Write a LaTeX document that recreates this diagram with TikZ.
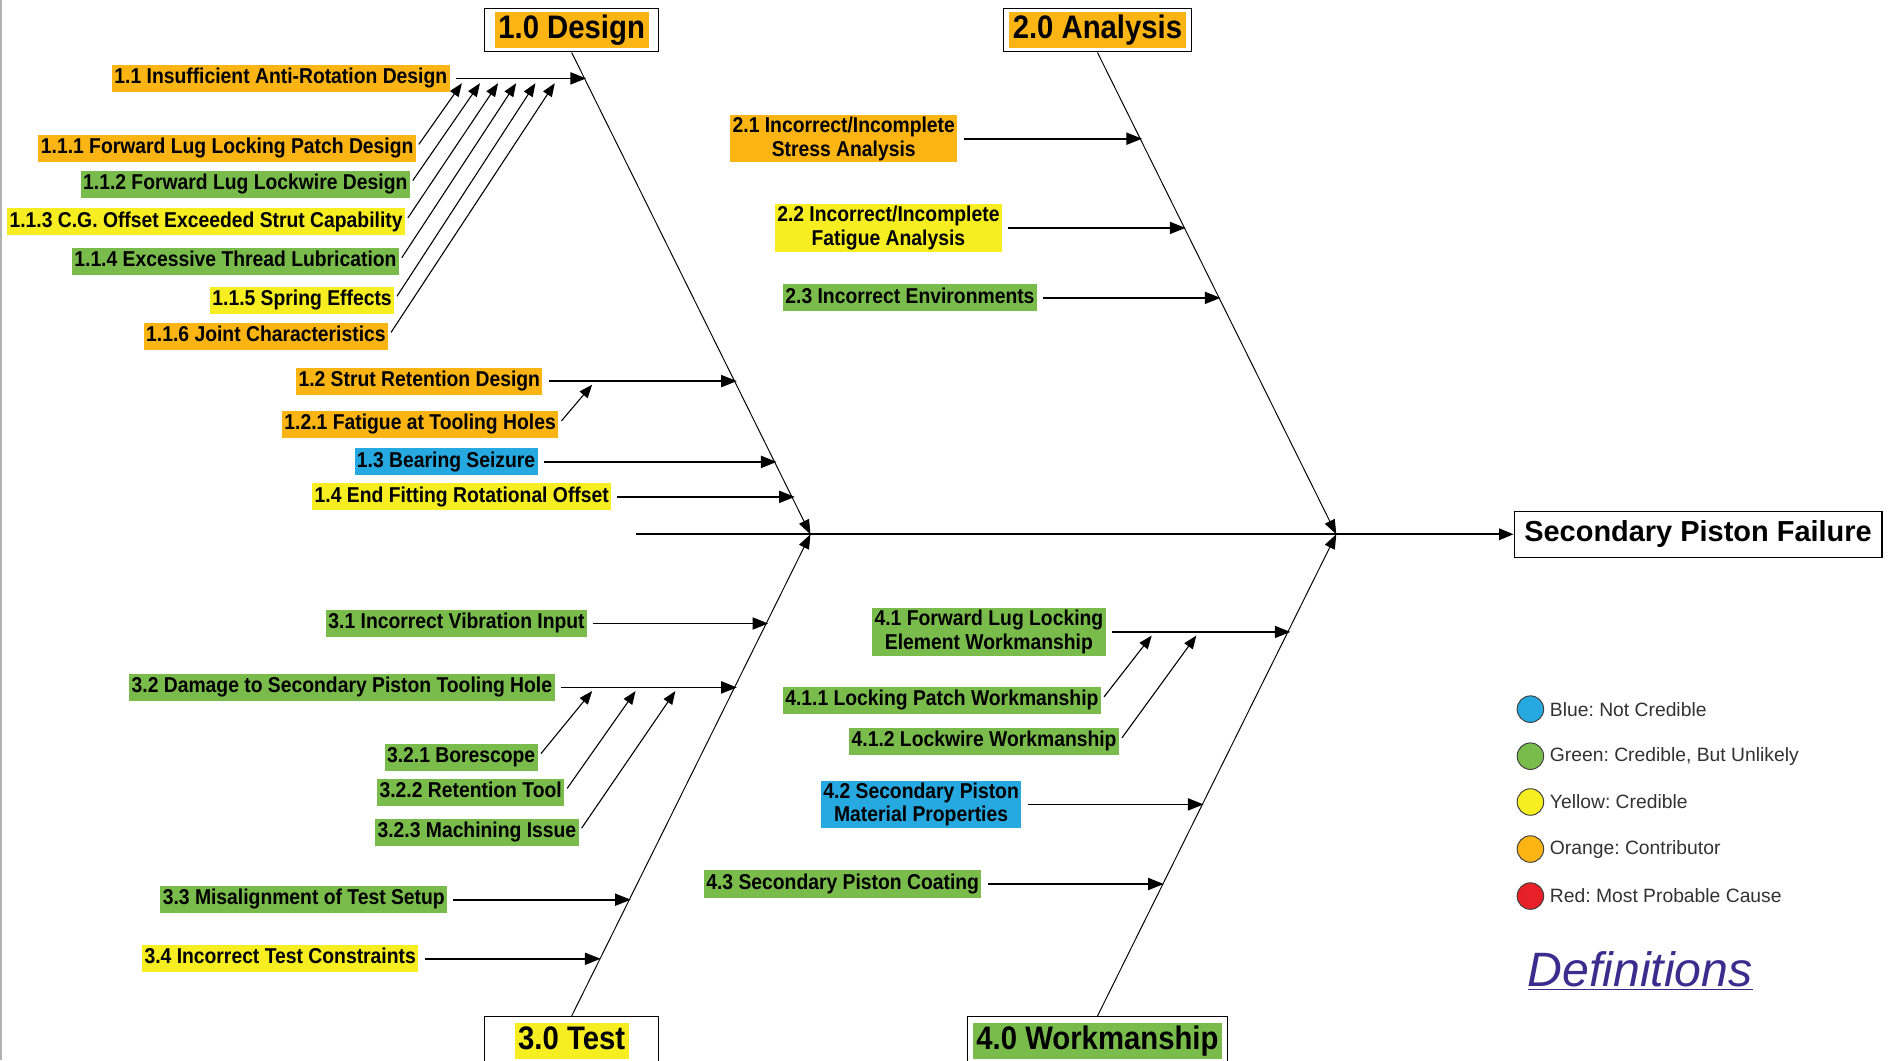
\documentclass[tikz,border=0pt]{standalone}
\usepackage{fontspec}
\setmainfont{Liberation Sans}
\newfontfamily\nf[FakeStretch=0.9]{Liberation Sans}
\usetikzlibrary{arrows.meta}
\frenchspacing
\definecolor{cOr}{RGB}{250,180,20}
\definecolor{cYe}{RGB}{246,238,32}
\definecolor{cGr}{RGB}{122,188,76}
\definecolor{cBl}{RGB}{38,168,224}
\definecolor{cRe}{RGB}{232,32,40}
\definecolor{cPu}{RGB}{60,44,142}
\definecolor{legtxt}{RGB}{50,50,50}
\tikzset{
  lab/.style={anchor=east, inner xsep=2pt, inner ysep=2pt, text height=13.5pt, text depth=5pt,
    font=\nf\bfseries\fontsize{17.8}{19.5}\selectfont},
  labtwo/.style={anchor=east, inner xsep=2pt, inner ysep=1.5pt, align=center,
    font=\nf\bfseries\fontsize{17.8}{19.5}\selectfont},
  ttlbox/.style={draw=black, line width=1pt, fill=white, minimum height=36pt, inner sep=0pt},
  ttlhl/.style={inner xsep=3pt, inner ysep=2pt, text height=20pt, text depth=6pt,
    font=\nf\bfseries\fontsize{27}{29}\selectfont},
  spfbox/.style={draw=black, line width=1pt, minimum width=305pt, minimum height=38pt,
    font=\bfseries\fontsize{24}{26}\selectfont},
  arr/.style={line width=1.4pt, -{Triangle[length=13pt,width=10pt]}, shorten <=5pt},
  subarr/.style={line width=0.9pt, -{Triangle[length=11pt,width=8.5pt]}, shorten <=4pt},
  bone/.style={line width=0.8pt, -{Triangle[length=12pt,width=9pt]}},
  spine/.style={line width=1.5pt, -{Triangle[length=12pt,width=9.5pt]}},
  legdot/.style={circle, draw=black!75, line width=0.8pt, minimum size=22pt, inner sep=0pt},
  legtext/.style={anchor=west, text=legtxt, font=\fontsize{16}{18}\selectfont, inner sep=0pt}
}
\begin{document}
\begin{tikzpicture}[x=1pt,y=-1pt]
\path[use as bounding box, clip] (0,0) rectangle (1568,879);
\fill[white] (0,0) rectangle (1568,879);
\draw[gray!60, line width=2pt] (1,0) -- (1,879);

% ---- category boxes ----
\node[ttlbox, minimum width=144pt] (design) at (474,25) {};
\node[ttlhl, fill=cOr] (designT) at (design.center) {1.0 Design};
\node[ttlbox, minimum width=156pt] (analysis) at (910,25) {};
\node[ttlhl, fill=cOr] (analysisT) at (analysis.center) {2.0 Analysis};
\node[ttlbox, minimum width=144pt, minimum height=44pt] (test) at (474,865) {};
\node[ttlhl, fill=cYe] (testT) at (474,863) {3.0 Test};
\node[ttlbox, minimum width=216pt, minimum height=44pt] (work) at (910,865) {};
\node[ttlhl, fill=cGr] (workT) at (910,863) {4.0 Workmanship};

\node[spfbox] (spf) at (1408,443) {Secondary Piston Failure};

% ---- spine and bones ----
\coordinate (s0) at (527,443);
\coordinate (J1) at (672,443);
\coordinate (J2) at (1108,443);
\draw[spine] (s0) -- (spf.west);
\draw[bone] (design.south) -- (J1);
\draw[bone] (analysis.south) -- (J2);
\draw[bone] (test.north) -- (J1);
\draw[bone] (work.north) -- (J2);

% ---- 1.0 Design ----
\node[lab, fill=cOr] (l11) at (373,65) {1.1 Insufficient Anti-Rotation Design};
\node[lab, fill=cOr] (l111) at (345,123) {1.1.1 Forward Lug Locking Patch Design};
\node[lab, fill=cGr] (l112) at (340,153) {1.1.2 Forward Lug Lockwire Design};
\node[lab, fill=cYe] (l113) at (336,184) {1.1.3 C.G. Offset Exceeded Strut Capability};
\node[lab, fill=cGr] (l114) at (331,217) {1.1.4 Excessive Thread Lubrication};
\node[lab, fill=cYe] (l115) at (327,249) {1.1.5 Spring Effects};
\node[lab, fill=cOr] (l116) at (322,279) {1.1.6 Joint Characteristics};
\node[lab, fill=cOr] (l12) at (450,316) {1.2 Strut Retention Design};
\node[lab, fill=cOr] (l121) at (463,352) {1.2.1 Fatigue at Tooling Holes};
\node[lab, fill=cBl] (l13) at (446,383) {1.3 Bearing Seizure};
\node[lab, fill=cYe] (l14) at (507,412) {1.4 End Fitting Rotational Offset};

\coordinate (b11) at (486,65);
\coordinate (b12) at (611,316);
\coordinate (b13) at (644,383);
\coordinate (b14) at (659,412);
\draw[arr] (l11.east) -- (b11);
\draw[arr] (l12.east) -- (b12);
\draw[arr] (l13.east) -- (b13);
\draw[arr] (l14.east) -- (b14);

\coordinate (t111) at (383,69);
\coordinate (t112) at (398,69);
\coordinate (t113) at (413,69);
\coordinate (t114) at (428,69);
\coordinate (t115) at (444,69);
\coordinate (t116) at (460,69);
\draw[subarr] (l111.east) -- (t111);
\draw[subarr] (l112.east) -- (t112);
\draw[subarr] (l113.east) -- (t113);
\draw[subarr] (l114.east) -- (t114);
\draw[subarr] (l115.east) -- (t115);
\draw[subarr] (l116.east) -- (t116);
\coordinate (t121) at (491,319);
\draw[subarr] (l121.east) -- (t121);

% ---- 2.0 Analysis ----
\node[labtwo, fill=cOr] (l21) at (794,115) {2.1 Incorrect/Incomplete\\Stress Analysis};
\node[labtwo, fill=cYe] (l22) at (831,189) {2.2 Incorrect/Incomplete\\Fatigue Analysis};
\node[lab, fill=cGr] (l23) at (860,247) {2.3 Incorrect Environments};
\coordinate (b21) at (947,115);
\coordinate (b22) at (983,189);
\coordinate (b23) at (1012,247);
\draw[arr] (l21.east) -- (b21);
\draw[arr] (l22.east) -- (b22);
\draw[arr] (l23.east) -- (b23);

% ---- 3.0 Test ----
\node[lab, fill=cGr] (l31) at (487,517) {3.1 Incorrect Vibration Input};
\node[lab, fill=cGr] (l32) at (460,570) {3.2 Damage to Secondary Piston Tooling Hole};
\node[lab, fill=cGr] (l321) at (446,628) {3.2.1 Borescope};
\node[lab, fill=cGr] (l322) at (468,657) {3.2.2 Retention Tool};
\node[lab, fill=cGr] (l323) at (480,690) {3.2.3 Machining Issue};
\node[lab, fill=cGr] (l33) at (371,746) {3.3 Misalignment of Test Setup};
\node[lab, fill=cYe] (l34) at (347,795) {3.4 Incorrect Test Constraints};
\coordinate (b31) at (637,517);
\coordinate (b32) at (611,570);
\coordinate (b33) at (523,746);
\coordinate (b34) at (498,795);
\draw[arr] (l31.east) -- (b31);
\draw[arr] (l32.east) -- (b32);
\draw[arr] (l33.east) -- (b33);
\draw[arr] (l34.east) -- (b34);
\coordinate (t321) at (491,573);
\coordinate (t322) at (527,573);
\coordinate (t323) at (560,573);
\draw[subarr] (l321.east) -- (t321);
\draw[subarr] (l322.east) -- (t322);
\draw[subarr] (l323.east) -- (t323);

% ---- 4.0 Workmanship ----
\node[labtwo, fill=cGr] (l41) at (917,524) {4.1 Forward Lug Locking\\Element Workmanship};
\node[lab, fill=cGr] (l411) at (913,581) {4.1.1 Locking Patch Workmanship};
\node[lab, fill=cGr] (l412) at (928,615) {4.1.2 Lockwire Workmanship};
\node[labtwo, fill=cBl] (l42) at (847,667) {4.2 Secondary Piston\\Material Properties};
\node[lab, fill=cGr] (l43) at (814,733) {4.3 Secondary Piston Coating};
\coordinate (b41) at (1070,524);
\coordinate (b42) at (998,667);
\coordinate (b43) at (965,733);
\draw[arr] (l41.east) -- (b41);
\draw[arr] (l42.east) -- (b42);
\draw[arr] (l43.east) -- (b43);
\coordinate (t411) at (955,527);
\coordinate (t412) at (992,527);
\draw[subarr] (l411.east) -- (t411);
\draw[subarr] (l412.east) -- (t412);

% ---- legend ----
\node[legdot, fill=cBl] (c1) at (1269,588) {};
\node[legdot, fill=cGr] (c2) at (1269,627) {};
\node[legdot, fill=cYe] (c3) at (1269,665) {};
\node[legdot, fill=cOr] (c4) at (1269,704) {};
\node[legdot, fill=cRe] (c5) at (1269,743) {};
\node[legtext] (g1) at (1285,588) {Blue: Not Credible};
\node[legtext] (g2) at (1285,627) {Green: Credible, But Unlikely};
\node[legtext] (g3) at (1285,665) {Yellow: Credible};
\node[legtext] (g4) at (1285,704) {Orange: Contributor};
\node[legtext] (g5) at (1285,743) {Red: Most Probable Cause};
\node[text=cPu, font=\itshape\fontsize{40}{44}\selectfont] (defs) at (1360,805) {\underline{Definitions}};
\end{tikzpicture}
\end{document}
